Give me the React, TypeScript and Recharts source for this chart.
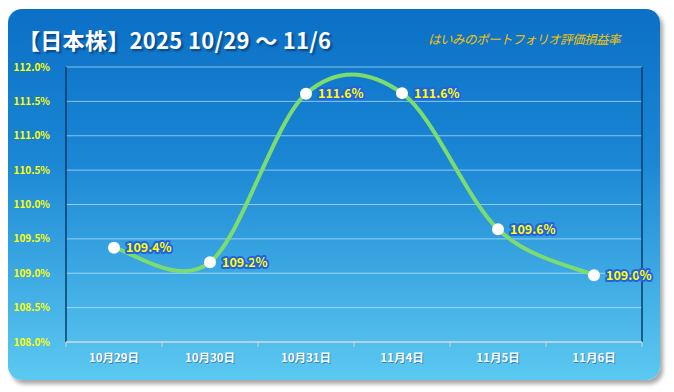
import { LineChart, Line, XAxis, YAxis, CartesianGrid, LabelList } from "recharts"

const dates = ["10月29日", "10月30日", "10月31日", "11月4日", "11月5日", "11月6日"]
const rates = [109.37, 109.16, 111.61, 111.62, 109.64, 108.97]
const yTicks = [108, 108.5, 109, 109.5, 110, 110.5, 111, 111.5, 112]

const data = dates.map((d, i) => ({ name: d, rate: rates[i] }))

// Excel風のスムージング線 (Catmull-Rom)
function excelSmooth(context: any) {
  let pts: number[][] = []
  return {
    areaStart() {},
    areaEnd() {},
    lineStart() {
      pts = []
    },
    point(x: number, y: number) {
      pts.push([+x, +y])
    },
    lineEnd() {
      const n = pts.length
      if (!n) return
      context.moveTo(pts[0][0], pts[0][1])
      for (let i = 0; i < n - 1; i++) {
        const p0 = pts[Math.max(i - 1, 0)]
        const p1 = pts[i]
        const p2 = pts[i + 1]
        const p3 = pts[Math.min(i + 2, n - 1)]
        context.bezierCurveTo(
          p1[0] + (p2[0] - p0[0]) / 6,
          p1[1] + (p2[1] - p0[1]) / 6,
          p2[0] - (p3[0] - p1[0]) / 6,
          p2[1] - (p3[1] - p1[1]) / 6,
          p2[0],
          p2[1]
        )
      }
    },
  }
}

const font = "'Noto Sans CJK JP', 'Noto Sans', sans-serif"

const XTick = (props: any) => {
  const { x, y, payload, index } = props
  const half = 48
  return (
    <g>
      <line x1={x - half} y1={y - 8} x2={x - half} y2={y - 3} stroke="#c8d4e0" />
      {index === dates.length - 1 && (
        <line x1={x + half} y1={y - 8} x2={x + half} y2={y - 3} stroke="#c8d4e0" />
      )}
      <text x={x + 1} y={y + 13} textAnchor="middle" fill="#1a4f86" fontSize={11.5} fontWeight={700} fontFamily={font} opacity={0.5}>
        {payload.value}
      </text>
      <text x={x} y={y + 12} textAnchor="middle" fill="#ffffff" fontSize={11.5} fontWeight={700} fontFamily={font}>
        {payload.value}
      </text>
    </g>
  )
}

const PointLabel = (props: any) => {
  const { x, y, value } = props
  return (
    <text
      x={x + 12}
      y={y + 4.5}
      fill="#ffff00"
      stroke="#2463e0"
      strokeWidth={4}
      strokeLinejoin="round"
      paintOrder="stroke"
      fontSize={12.5}
      fontWeight={700}
      fontFamily={font}
    >
      {Number(value).toFixed(1)}%
    </text>
  )
}

export default function App() {
  return (
    <div style={{ position: "absolute", left: 0, top: 0, width: 674, height: 392, background: "#ffffff" }}>
      <div
        style={{
          position: "absolute",
          left: 8,
          top: 9,
          width: 652,
          height: 371,
          borderRadius: 14,
          background: "linear-gradient(to bottom, #0b70c6 0%, #1a86d4 40%, #5cc9f1 100%)",
          boxShadow: "3px 4px 4px rgba(0,0,0,0.35)",
        }}
      />
      <div
        style={{
          position: "absolute",
          left: 18,
          top: 23,
          color: "#ffffff",
          fontFamily: font,
          fontWeight: 700,
          fontSize: 22,
          whiteSpace: "nowrap",
          letterSpacing: 0.3,
          textShadow: "2px 2px 2px rgba(0,40,90,0.6)",
        }}
      >
        【日本株】2025 10/29 ～ 11/6
      </div>
      <div
        style={{
          position: "absolute",
          left: 428,
          top: 29,
          color: "#f5c200",
          fontFamily: font,
          fontStyle: "italic",
          fontSize: 12.5,
          whiteSpace: "nowrap",
          letterSpacing: -0.5,
        }}
      >
        はいみのポートフォリオ評価損益率
      </div>
      <div style={{ position: "absolute", left: 0, top: 0 }}>
        <LineChart width={674} height={392} data={data} margin={{ top: 67, right: 32, bottom: 20, left: 8 }}>
          <CartesianGrid vertical={false} stroke="rgba(220,240,255,0.6)" strokeWidth={1} />
          <CartesianGrid
            horizontal={false}
            stroke="#0d3a68"
            strokeWidth={1.5}
            verticalCoordinatesGenerator={({ offset }: any) => [offset.left, offset.left + offset.width]}
          />
          <XAxis
            dataKey="name"
            padding={{ left: 48, right: 48 }}
            axisLine={{ stroke: "#c8d4e0", strokeWidth: 1.5 }}
            tickLine={false}
            height={30}
            interval={0}
            tick={<XTick />}
          />
          <YAxis
            domain={[108, 112]}
            ticks={yTicks}
            width={58}
            axisLine={false}
            tickLine={false}
            tickMargin={10}
            tickFormatter={(v) => `${Number(v).toFixed(1)}%`}
            tick={{ fill: "#ffff00", fontSize: 10, fontWeight: 700, fontFamily: font }}
          />
          <Line
            dataKey="rate"
            type={excelSmooth as any}
            stroke="#7ddc6e"
            strokeWidth={4}
            dot={{ r: 6, fill: "#ffffff", stroke: "none" }}
            activeDot={false}
            isAnimationActive={false}
          >
            <LabelList dataKey="rate" content={<PointLabel />} />
          </Line>
        </LineChart>
      </div>
    </div>
  )
}
